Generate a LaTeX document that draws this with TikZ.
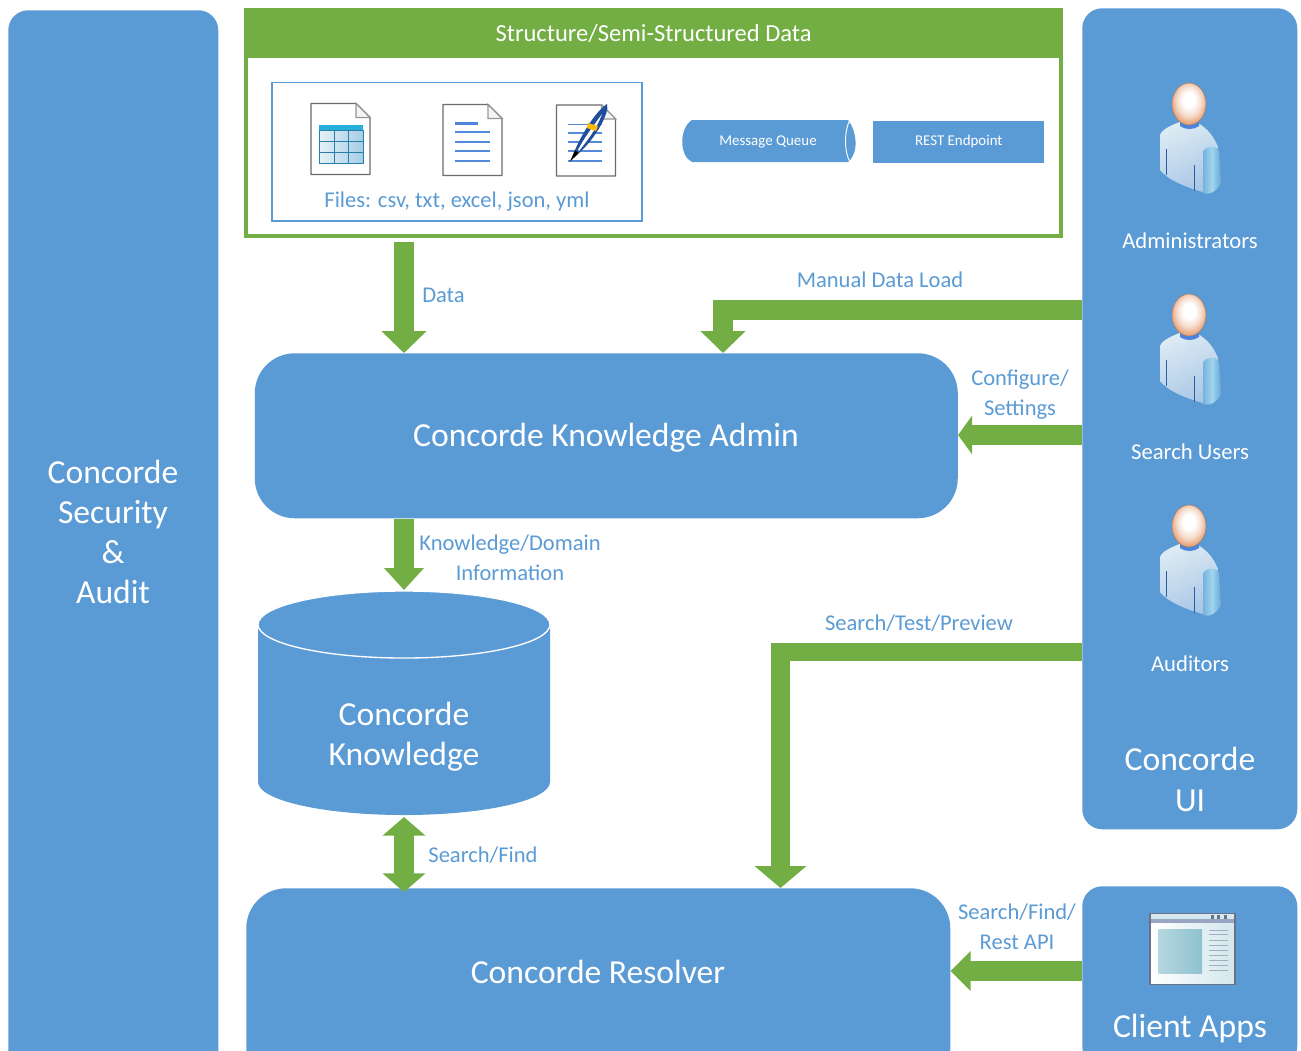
\documentclass[tikz,border=0pt]{standalone}
\usepackage{fontspec}
\setmainfont{Carlito}
\usetikzlibrary{arrows.meta}
\definecolor{cblue}{HTML}{5B9BD5}
\definecolor{cgreen}{HTML}{72AE43}
\definecolor{cgray}{HTML}{6A6A6A}
\definecolor{bodya}{HTML}{DCEBF3}
\definecolor{bodyb}{HTML}{A9C6E6}
\definecolor{armmid}{HTML}{A0D5EC}
\definecolor{headedge}{HTML}{E8A67E}
\definecolor{winbar}{HTML}{98A6C4}
\definecolor{winpic}{HTML}{B5D7DF}
\definecolor{winpicb}{HTML}{8FC1CF}
\definecolor{winline}{HTML}{A3AEC2}
\definecolor{winedge}{HTML}{6B7189}
\definecolor{penblue}{HTML}{1F4E9C}
\definecolor{tablehead}{HTML}{25B0DC}
\definecolor{tableline}{HTML}{2A7FA8}
\definecolor{tablea}{HTML}{E4F1F8}
\definecolor{tableb}{HTML}{A6CDE6}
\pgfdeclareradialshading{headshade}{\pgfpoint{0bp}{6bp}}{
 color(0bp)=(white); color(9bp)=(white); color(18bp)=(headedge!40!white); color(26bp)=(headedge); color(50bp)=(headedge)}
\newcommand{\fs}[1]{\fontsize{#1}{#1}\selectfont}
\tikzset{
 panel/.style={fill=cblue,draw=none,rounded corners=#1,text=white,align=center,inner sep=0pt},
 garrow/.style={draw=cgreen,line width=15pt,line join=miter,-{Triangle[length=16.5pt,width=33pt]}},
 gdouble/.style={draw=cgreen,line width=15pt,{Triangle[length=14pt,width=31.5pt]}-{Triangle[length=14pt,width=31.5pt]}},
 lab/.style={text=cblue,align=center,inner sep=0pt,font=\fs{16.9},text height=11pt,text depth=3pt},
 doc/.pic={
  \draw[cgray,line width=1.1pt,fill=white,line join=round] (0,0) -- (45,0) -- (59,14) -- (59,71) -- (0,71) -- cycle;
  \draw[cgray!70,line width=.8pt,fill=white!92!gray] (45,0) -- (45,14) -- (59,14) -- cycle;
 },
 person/.pic={
  \shade[left color=bodya,right color=bodyb,shading angle=25]
    (20,60) .. controls (22,54) and (32,50) .. (42,46) -- (58,48)
    .. controls (68,54) and (74,62) .. (78,72) -- (66,118)
    .. controls (45,112) and (28,105) .. (20,95) -- cycle;
  \shade[left color=cblue!60!armmid,right color=cblue!80!armmid,middle color=armmid]
    (63,76) .. controls (68,70) and (76,70) .. (79,76) -- (81,108)
    .. controls (76,118) and (68,120) .. (63,118) -- cycle;
  \fill[cblue!85!blue] (40,46) .. controls (45,50) and (54,50) .. (59,47) -- (59,51) .. controls (54,55) and (45,55) .. (40,51) -- cycle;
  \path[shading=headshade,draw=headedge!70!black,line width=.3pt] (49,29) ellipse (17 and 21);
  \draw[penblue!80!cblue,line width=.6pt] (26.5,74) -- (26.5,100);
  \draw[penblue!80!cblue,line width=.6pt] (54.5,90) -- (54.5,116);
 }
}
\begin{document}
\begin{tikzpicture}[x=.75pt,y=-.75pt]
\clip (0,0) rectangle (1301,1050);
\useasboundingbox (0,0) rectangle (1301,1050);
\fill[white] (0,0) rectangle (1301,1050);

% panels
\node[panel=15pt,minimum width=157.5pt,minimum height=802pt,anchor=north west] (sec) at (8,10) {};
\node[text=white,align=center,font=\fs{25.2},inner sep=0pt] (sectxt) at (113,532) {Concorde\\[5pt]Security\\[5pt]\&\\[5pt]Audit};

\node[panel=15pt,minimum width=161.25pt,minimum height=615.75pt,anchor=north west] (ui) at (1082,8) {};
\node[text=white,align=center,font=\fs{25.2},inner sep=0pt] (uitxt) at (1190,779.5) {Concorde\\[5pt]UI};
\node[text=white,font=\fs{17},inner sep=0pt] (adm) at (1190,241) {Administrators};
\node[text=white,font=\fs{17},inner sep=0pt] (sus) at (1190,452) {Search Users};
\node[text=white,font=\fs{17},inner sep=0pt] (aud) at (1190,664) {Auditors};
\pic at (1140,75) {person};
\pic at (1140,286) {person};
\pic at (1140,497) {person};

\node[panel=15pt,minimum width=161.25pt,minimum height=135pt,anchor=north west] (client) at (1082,886) {};
\node[text=white,font=\fs{25.2},inner sep=0pt] (clienttxt) at (1190,1029) {Client Apps};
% window icon
\begin{scope}[shift={(1150,913.5)}]
 \shade[left color=white,right color=winpic!60!white] (0,0) rectangle (85,71);
 \fill[winpic!60!white] (0,0) rectangle (85,5);
 \fill[winbar] (0,5) rectangle (85,9);
 \shade[left color=winpic,right color=winpicb] (8.5,16) rectangle (52,60);
 \foreach \y in {17,21,27,32,37,42,47,52,57} {\fill[winline] (59,\y-.8) rectangle (78,\y+.8);}
 \draw[winedge,line width=1.4pt] (0,0) rectangle (85,71);
 \foreach \x in {61,67,74} {\fill[winedge] (\x,1) rectangle (\x+3,5);}
\end{scope}

% source box
\node[draw=cgreen,line width=2.8pt,fill=white,minimum width=611.4pt,minimum height=169.7pt,anchor=north west,inner sep=0pt] (src) at (244,8) {};
\node[fill=cgreen,minimum width=614pt,minimum height=37.5pt,anchor=north west,inner sep=0pt,text=white,font=\fs{18.4}] (srchead) at (244,8) {Structure/Semi-Structured Data};
\node[draw=cblue,line width=1.2pt,minimum width=277.5pt,minimum height=104pt,anchor=north west,inner sep=0pt] (files) at (271,81.5) {};
\node[lab] (filestxt) at (457,202) {Files: csv, txt, excel, json, yml};

% doc icons
\pic at (311,103.5) {doc};
\begin{scope}[shift={(319,125)}]
 \shade[left color=tablea,right color=tableb] (0,0) rectangle (44,38);
 \fill[tablehead] (0,0) rectangle (44,5.5);
 \draw[tableline,line width=.7pt] (0,5.5) rectangle (44,38) (0,16) -- (44,16) (0,27) -- (44,27) (15,5.5) -- (15,38) (29.5,5.5) -- (29.5,38);
\end{scope}
\pic at (443,104.5) {doc};
\fill[cblue!85!blue] (455,122) rectangle (478,125);
\foreach \y in {132,142,151,161} {\draw[cblue!90!blue,line width=.8pt] (455,\y) -- (490,\y);}
\pic at (556.5,105) {doc};
\foreach \y in {124.5,133,142,151,161} {\draw[cblue!90!blue,line width=.8pt] (568,\y) -- (602,\y);}
\begin{scope}
 \fill[black] (570,161.5) -- (575,150) -- (579,153) -- cycle;
 \fill[penblue] (575,150) .. controls (582,134) and (595,112) .. (607,104) .. controls (610,112) and (596,138) .. (579,153) -- cycle;
 \fill[white] (578,150) .. controls (584,138) and (592,128) .. (602,114) .. controls (596,130) and (586,142) .. (579,151) -- cycle;
 \fill[orange!55!yellow] (588,123) -- (598,126) -- (596,131) -- (587,128) -- cycle;
\end{scope}

% queue and rest
\node[inner sep=0pt,minimum width=130pt,minimum height=31pt] (mq) at (770,141) {};
\fill[cblue] (692,120) -- (848,120) .. controls (856,130) and (860,152) .. (848,162) -- (692,162) .. controls (679,156) and (679,128) .. (692,120) -- cycle;
\draw[white,line width=.7pt] (850,120) .. controls (844,130) and (844,152) .. (850,162);
\node[text=white,font=\fs{11.2},inner sep=0pt] (mqtxt) at (768,142) {Message Queue};
\node[fill=cblue,inner sep=0pt,minimum width=128.25pt,minimum height=31.5pt,anchor=north west,text=white,font=\fs{11.2}] (rest) at (873,120.5) {REST Endpoint};

% main blocks
\node[panel=30pt,minimum width=527.25pt,minimum height=123.75pt,anchor=north west] (admin) at (254.5,353) {};
\node[text=white,font=\fs{25.2},inner sep=0pt] (admintxt) at (606,437.5) {Concorde Knowledge Admin};
\node[panel=30pt,minimum width=528pt,minimum height=150pt,anchor=north west] (resolver) at (246,888) {};
\node[text=white,font=\fs{25.2},inner sep=0pt] (restxt) at (598,972) {Concorde Resolver};

% cylinder
\node[inner sep=0pt,minimum width=219pt,minimum height=168pt] (kb) at (404,703) {};
\fill[cblue] (258,624) -- (258,782) arc[start angle=180,end angle=0,x radius=146,y radius=33] -- (550,624) arc[start angle=0,end angle=-180,x radius=146,y radius=33] -- cycle;
\draw[white,line width=1pt] (404,624.5) ellipse (146 and 33.5);
\node[text=white,align=center,font=\fs{25.2},inner sep=0pt] (kbtxt) at (404,736.5) {Concorde\\[5pt]Knowledge};

% connectors
\draw[garrow] (404,0 |- src.south) ++(0,4) -- (404,0 |- admin.north);
\draw[garrow] (ui.west |- 0,309.5) -| (723,0 |- admin.north);
\draw[garrow,-{Triangle[length=10.5pt,width=28.5pt]}] (ui.west |- 0,435) -- (admin.east |- 0,435);
\draw[garrow,-{Triangle[length=16.5pt,width=29pt]}] (404,0 |- admin.south) -- (404,590);
\draw[gdouble] (404,817) -- (404,892);
\draw[garrow,line width=14pt,-{Triangle[length=16.5pt,width=38pt]}] (ui.west |- 0,652) -| (780.5,0 |- resolver.north);
\draw[garrow,-{Triangle[length=15pt,width=29pt]}] (client.west |- 0,971) -- (resolver.east |- 0,971);

% labels
\node[lab] (l1) at (443.5,297) {Data};
\node[lab] (l2) at (880,282) {Manual Data Load};
\node[lab] (l3) at (1020,380) {Configure/};
\node[lab] (l3b) at (1020,410) {Settings};
\node[lab] (l4) at (510,545) {Knowledge/Domain};
\node[lab] (l4b) at (510,575) {Information};
\node[lab] (l5) at (919,625) {Search/Test/Preview};
\node[lab] (l6) at (483,857) {Search/Find};
\node[lab] (l7) at (1017,914) {Search/Find/};
\node[lab] (l7b) at (1017,944) {Rest API};
\end{tikzpicture}
\end{document}
